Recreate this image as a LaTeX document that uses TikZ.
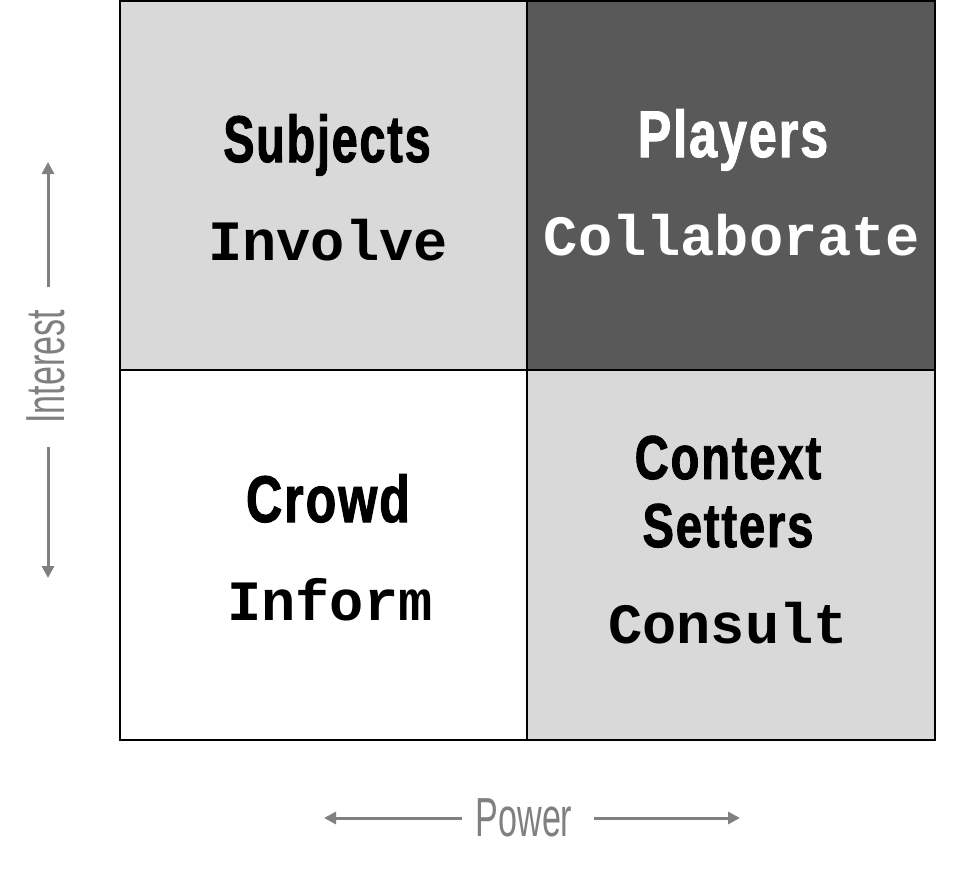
\documentclass[tikz,border=0pt]{standalone}
\usepackage{fontspec}
\setmainfont{Liberation Sans}
\newfontfamily\headfont[FakeStretch=0.76,FakeBold=1.5,LetterSpace=3]{Liberation Sans Bold}
\newfontfamily\axisfont[FakeStretch=0.62]{Liberation Sans}
\newfontfamily\actfont{Liberation Mono Bold}
\definecolor{lightcell}{HTML}{D9D9D9}
\definecolor{darkcell}{HTML}{595959}
\definecolor{axisgray}{HTML}{808080}
\usetikzlibrary{arrows.meta}
\tikzset{
  cell/.style={draw=black, line width=2pt},
  head/.style={anchor=base, inner sep=0pt, font=\headfont\fontsize{66}{70}\selectfont},
  headsmall/.style={anchor=base, inner sep=0pt, font=\headfont\fontsize{62}{66}\selectfont},
  act/.style={anchor=base, inner sep=0pt, font=\actfont\fontsize{57}{60}\selectfont},
  axislabel/.style={inner sep=0pt, text=axisgray, font=\axisfont\fontsize{55}{58}\selectfont},
  axisline/.style={draw=axisgray, line width=3pt, -{Triangle[length=12pt,width=12pt]}},
}
\begin{document}
\begin{tikzpicture}[x=1pt,y=-1pt]
\useasboundingbox (0,0) rectangle (961,876);
% cells
\fill[lightcell] (120,1) rectangle (527,370);
\fill[darkcell] (527,1) rectangle (935,370);
\fill[white] (120,370) rectangle (527,740);
\fill[lightcell] (527,370) rectangle (935,740);
\draw[cell] (120,1) rectangle (935,740);
\draw[cell] (527,1) -- (527,740);
\draw[cell] (120,370) -- (935,370);
% labels
\node[head, xscale=0.93] (subj) at (327,162) {Subjects};
\node[act] (inv) at (328,260) {Involve};
\node[head, text=white] (play) at (733,157) {Players};
\node[act, text=white] (coll) at (732,255) {Collaborate};
\node[head] (crowd) at (328,522) {Crowd};
\node[act] (inf) at (330,620) {Inform};
\node[headsmall] (ctx) at (728,479) {Context};
\node[headsmall] (set) at (728,547) {Setters};
\node[act] (cons) at (728,643) {Consult};
% axes
\node[axislabel, rotate=90] (interest) at (46,367) {Interest};
\coordinate (itop) at (48,162);
\coordinate (ibot) at (48,578);
\draw[axisline] (48,287) -- (itop);
\draw[axisline] (48,447) -- (ibot);
\node[axislabel] (power) at (524,818) {Power};
\coordinate (pleft) at (324,818);
\coordinate (pright) at (740,818);
\draw[axisline] (462,818) -- (pleft);
\draw[axisline] (594,818) -- (pright);
\end{tikzpicture}
\end{document}
